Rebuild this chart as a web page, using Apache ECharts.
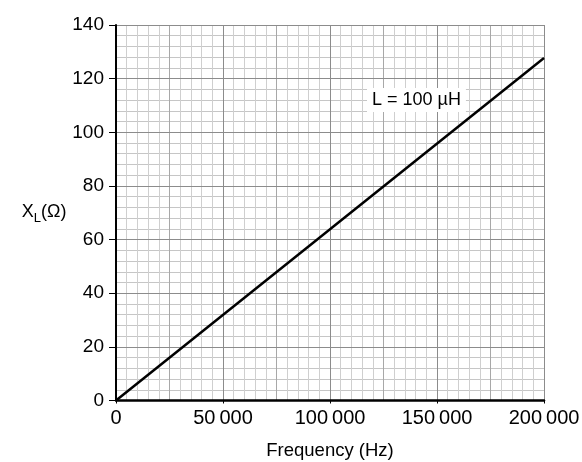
<!DOCTYPE html>
<html>
<head>
<meta charset="utf-8">
<script src="https://cdn.jsdelivr.net/npm/echarts@6/dist/echarts.min.js"></script>
<style>html,body{margin:0;padding:0;background:#fff}#c{width:582px;height:462px}</style>
</head>
<body>
<div id="c"></div>
<script>
const frequency = [0, 200000];
const reactance = [0, 127.7];
const xMax = 200000;
const yMax = 140;
const annotation = 'L = 100 µH';
const xTitle = 'Frequency (Hz)';

function fmtX(v) {
  if (v === 0) return '0';
  const s = String(Math.round(v));
  return s.slice(0, s.length - 3) + '\u2009' + s.slice(s.length - 3);
}
const FONT = '"Liberation Sans", Arial, sans-serif';
const chart = echarts.init(document.getElementById('c'), null, {renderer: 'canvas'});
const hidden = {axisLine: {show: false}, axisTick: {show: false}, axisLabel: {show: false}};
chart.setOption({
  animation: false,
  textStyle: {fontFamily: FONT},
  grid: {left: 116, right: 38, top: 25, bottom: 61.5, containLabel: false, outerBoundsMode: 'none'},
  title: {
    text: annotation, left: 367, top: 88,
    backgroundColor: '#fff', padding: [3, 5, 3, 5],
    textStyle: {fontFamily: FONT, fontSize: 18, fontWeight: 'normal', color: '#000'}
  },
  xAxis: [
    Object.assign({type: 'value', position: 'bottom', min: 0, max: xMax, interval: 5000, z: 1,
      splitLine: {show: true, lineStyle: {color: '#cfcfcf', width: 1}}}, hidden),
    Object.assign({type: 'value', position: 'bottom', min: 0, max: xMax, interval: 25000, z: 2,
      splitLine: {show: true, lineStyle: {color: '#a8a8a8', width: 1}}}, hidden),
    {
      type: 'value', position: 'bottom', min: 0, max: xMax, interval: 50000, z: 3,
      name: xTitle, nameLocation: 'middle', nameGap: 41,
      nameTextStyle: {fontFamily: FONT, fontSize: 18.5, color: '#000'},
      axisLine: {show: true, onZero: false, lineStyle: {color: '#000', width: 2.5}},
      axisTick: {show: true, length: 3, lineStyle: {color: '#000', width: 1}},
      axisLabel: {show: true, margin: 8, fontFamily: FONT, fontSize: 20, color: '#000', formatter: fmtX},
      splitLine: {show: true, lineStyle: {color: '#8c8c8c', width: 1}}
    }
  ],
  yAxis: [
    Object.assign({type: 'value', position: 'left', min: 0, max: yMax, interval: 4, z: 1,
      splitLine: {show: true, lineStyle: {color: '#c6c6c6', width: 1}}}, hidden),
    {
      type: 'value', position: 'left', min: 0, max: yMax, interval: 20, z: 3,
      name: '{n|X}{s|L}{n|(Ω)}', nameLocation: 'middle', nameGap: 49, nameRotate: 0,
      nameTextStyle: {
        align: 'right',
        rich: {
          n: {fontFamily: FONT, fontSize: 18, color: '#000', lineHeight: 20, verticalAlign: 'top'},
          s: {fontFamily: FONT, fontSize: 13, color: '#000', lineHeight: 13, padding: [9, 0, 0, 0], verticalAlign: 'top'}
        }
      },
      axisLine: {show: true, onZero: false, lineStyle: {color: '#000', width: 2}},
      axisTick: {show: true, length: 7, lineStyle: {color: '#000', width: 1}},
      axisLabel: {show: true, margin: 12, fontFamily: FONT, fontSize: 19, color: '#000'},
      splitLine: {show: true, lineStyle: {color: '#8c8c8c', width: 1}}
    }
  ],
  series: [{
    type: 'line', xAxisIndex: 2, yAxisIndex: 1, z: 5,
    data: frequency.map((f, i) => [f, reactance[i]]),
    symbol: 'none', lineStyle: {color: '#000', width: 2.5}
  }]
});
</script>
</body>
</html>
